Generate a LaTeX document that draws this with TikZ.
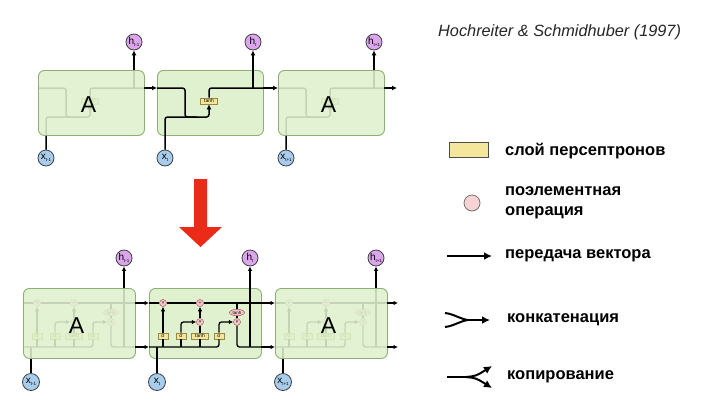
\documentclass[tikz,border=0pt]{standalone}
\usepackage{fontspec}
\setmainfont{Liberation Sans}
\usetikzlibrary{arrows.meta,shapes.geometric}
\definecolor{cellfill}{HTML}{DFF1CE}
\definecolor{celldraw}{HTML}{8DAE74}
\definecolor{hfill}{HTML}{DCA6EC}
\definecolor{xfill}{HTML}{A8CCEB}
\definecolor{layfill}{HTML}{F4E69A}
\definecolor{laydraw}{HTML}{9C8740}
\definecolor{opfill}{HTML}{F6C8CB}
\definecolor{opdraw}{HTML}{A05558}
\definecolor{redarrow}{HTML}{EB2A18}
\newcommand\lab[2]{{\fontsize{10}{10}\selectfont #1}\raisebox{-1.5pt}{\fontsize{4.5}{5}\selectfont #2}}
\tikzset{
 flow/.style={line width=1.5pt, rounded corners=2.5pt},
 flowb/.style={line width=1.3pt, rounded corners=2.5pt},
 tip/.style={-{Latex[length=5pt,width=5pt]}},
 tipb/.style={-{Latex[length=4.5pt,width=4.5pt]}},
 cellbox/.style={draw=celldraw, line width=0.9pt, fill=cellfill, rounded corners=6pt, inner sep=0, anchor=north west},
 ghost/.style={fill opacity=0.88},
 hcirc/.style={circle, draw=black!75, fill=hfill, minimum size=16pt, inner sep=0, line width=0.8pt},
 xcirc/.style={circle, draw=black!75, fill=xfill, minimum size=16pt, inner sep=0, line width=0.8pt},
 layer/.style={draw=laydraw, fill=layfill, line width=0.6pt, inner sep=0, minimum height=6pt, font=\fontsize{5}{5}\selectfont},
 op/.style={circle, draw=opdraw, fill=opfill, line width=0.5pt, minimum size=7pt, inner sep=0, font=\fontsize{5}{5}\selectfont},
 opell/.style={ellipse, draw=opdraw, fill=opfill, line width=0.5pt, minimum width=15pt, minimum height=6.5pt, inner sep=0, font=\fontsize{4.5}{5}\selectfont},
 bigA/.style={font=\fontsize{23}{23}\selectfont, inner sep=0},
 legtext/.style={anchor=west, font=\fontsize{16.5}{20}\selectfont\bfseries, align=left, inner sep=0},
 legline/.style={line width=2pt},
 legtip/.style={-{Latex[length=8pt,width=8pt]}},
}
% top (simple RNN) cell internals: #1 prefix, #2 x sub, #3 h sub
\newcommand\topinner[3]{
 \node[xcirc] (#1x) at (8,88) {\lab{x}{#2}};
 \node[hcirc] (#1h) at (96,-28) {\lab{h}{#3}};
 \node[layer, minimum width=17pt] (#1tanh) at (52,31) {tanh};
 \coordinate (#1in) at (0,18);
 \coordinate (#1out) at (106,18);
 \coordinate (#1hb) at (96,18);
 \draw[flow] (#1in) -- (28,18) -- (28,47) -- (40,47);
 \draw[flow,tip] (#1x.north) -- (8,47) -- (52,47) -- (#1tanh.south);
 \draw[flow] (#1tanh.north) -- (52,18) -- (#1out);
 \draw[flow,tip] (#1hb) -- (#1h.south);
}
% bottom (LSTM) cell internals
\newcommand\botinner[3]{
 \coordinate (#1intop) at (0,15);
 \coordinate (#1inbot) at (0,59);
 \coordinate (#1outtop) at (112,15);
 \coordinate (#1outbot) at (112,59);
 \node[xcirc, minimum size=17pt] (#1x) at (8,94) {\lab{x}{#2}};
 \node[hcirc] (#1h) at (101,-30) {\lab{h}{#3}};
 \node[layer, minimum width=10pt] (#1sf) at (14,48) {σ};
 \node[layer, minimum width=10pt] (#1si) at (32,48) {σ};
 \node[layer, minimum width=17pt] (#1tg) at (51,48) {tanh};
 \node[layer, minimum width=10pt] (#1so) at (70,48) {σ};
 \node[op] (#1mf) at (14,15) {×};
 \node[op] (#1pa) at (51,15) {+};
 \node[op] (#1mi) at (51,34) {×};
 \node[op] (#1mo) at (88,34) {×};
 \node[opell] (#1th) at (88,24.5) {tanh};
 \draw[flowb] (#1intop) -- (#1mf) -- (#1pa) -- (#1outtop);
 \draw[flowb] (#1th.north |- #1intop) -- (#1th.north);
 \draw[flowb] (#1th.south) -- (#1mo.north);
 \draw[flowb] (#1inbot) -- (#1so.south |- #1inbot) -- (#1so.south);
 \draw[flowb] (#1x.north) -- (#1x.north |- #1inbot);
 \draw[flowb] (#1sf.south |- #1inbot) -- (#1sf.south);
 \draw[flowb] (#1si.south |- #1inbot) -- (#1si.south);
 \draw[flowb] (#1tg.south |- #1inbot) -- (#1tg.south);
 \draw[flowb,tipb] (#1sf.north) -- (#1mf.south);
 \draw[flowb,tipb] (#1si.north) |- (#1mi.west);
 \draw[flowb] (#1tg.north) -- (#1mi.south);
 \draw[flowb,tipb] (#1mi.north) -- (#1pa.south);
 \draw[flowb,tipb] (#1so.north) |- (#1mo.west);
 \draw[flowb] (#1mo.south) |- (#1outbot);
 \draw[flowb,tipb] (#1h.south |- #1outbot) -- (#1h.south);
}
\begin{document}
\begin{tikzpicture}[x=1pt,y=-1pt]
\useasboundingbox[fill=white] (0,0) rectangle (717,405);

% ---------- top row ----------
\begin{scope}[shift={(38,70)}] \topinner{a1}{t-1}{t-1} \end{scope}
\node[cellbox, ghost, minimum width=106pt, minimum height=65pt] (a1box) at (38,70) {};
\node[bigA] (a1A) at ([shift={(-3,2)}]a1box.center) {A};

\begin{scope}[shift={(278,70)}] \topinner{a3}{t+1}{t+1} \end{scope}
\node[cellbox, ghost, minimum width=106pt, minimum height=65pt] (a3box) at (278,70) {};
\node[bigA] (a3A) at ([shift={(-3,2)}]a3box.center) {A};

\node[cellbox, minimum width=106pt, minimum height=65pt] (a2box) at (157,70) {};
\begin{scope}[shift={(157,70)}] \topinner{a2}{t}{t} \end{scope}

\coordinate (aend) at (397,88);
\draw[flow,tip] (a1out) -- (a2in);
\draw[flow,tip] (a2out) -- (a3in);
\draw[flow,tip] (a3out) -- (aend);

% ---------- red arrow ----------
\fill[redarrow] (194,179) -- (207,179) -- (207,227) -- (222,227) -- (200.5,247) -- (179,227) -- (194,227) -- cycle;

% ---------- bottom row ----------
\begin{scope}[shift={(23,288)}] \botinner{b1}{t-1}{t-1} \end{scope}
\node[cellbox, ghost, minimum width=112pt, minimum height=70pt] (b1box) at (23,288) {};
\node[bigA] (b1A) at ([shift={(-3,2)}]b1box.center) {A};

\begin{scope}[shift={(275,288)}] \botinner{b3}{t+1}{t+1} \end{scope}
\node[cellbox, ghost, minimum width=112pt, minimum height=70pt] (b3box) at (275,288) {};
\node[bigA] (b3A) at ([shift={(-3,2)}]b3box.center) {A};

\node[cellbox, minimum width=112pt, minimum height=70pt] (b2box) at (149,288) {};
\begin{scope}[shift={(149,288)}] \botinner{b2}{t}{t} \end{scope}

\coordinate (bendt) at (398,303);
\coordinate (bendb) at (398,347);
\draw[flowb,tipb] (b1outtop) -- (b2intop);
\draw[flowb,tipb] (b1outbot) -- (b2inbot);
\draw[flowb,tipb] (b2outtop) -- (b3intop);
\draw[flowb,tipb] (b2outbot) -- (b3inbot);
\draw[flowb,tipb] (b3outtop) -- (bendt);
\draw[flowb,tipb] (b3outbot) -- (bendb);

% ---------- title ----------
\node[anchor=west, inner sep=0, font=\fontsize{16.3}{16}\selectfont\itshape, text=black!85] (title) at (438,32) {Hochreiter \& Schmidhuber (1997)};

% ---------- legend ----------
\node[draw=black!70, fill=layfill, line width=0.8pt, minimum width=39pt, minimum height=15pt, inner sep=0] (lg1) at (468.5,149.5) {};
\node[legtext] (lt1) at (505,151) {слой персептронов};

\node[circle, draw=black!55, fill=opfill!80, line width=0.8pt, minimum size=16pt, inner sep=0] (lg2) at (472,203) {};
\node[legtext] (lt2) at (505,203) {поэлементная\\операция};

\coordinate (la1) at (447,256);
\coordinate (la2) at (492,256);
\draw[legline,legtip] (la1) -- (la2);
\node[legtext] (lt3) at (505,256) {передача вектора};

\coordinate (lc1) at (445,313);
\coordinate (lc2) at (445,327);
\coordinate (lcm) at (468,320);
\coordinate (lce) at (490,320);
\draw[legline] (lc1) .. controls (454,314) and (460,319) .. (lcm);
\draw[legline] (lc2) .. controls (454,326) and (460,321) .. (lcm);
\draw[legline,legtip] (lcm) -- (lce);
\node[legtext] (lt4) at (507,320) {конкатенация};

\coordinate (lp1) at (447,377);
\coordinate (lpm) at (466,377);
\coordinate (lpa) at (492,366);
\coordinate (lpb) at (492,388);
\draw[legline] (lp1) -- (lpm);
\draw[legline,legtip] (lpm) .. controls (476,376) .. (lpa);
\draw[legline,legtip] (lpm) .. controls (476,378) .. (lpb);
\node[legtext] (lt5) at (507,377) {копирование};
\end{tikzpicture}
\end{document}
